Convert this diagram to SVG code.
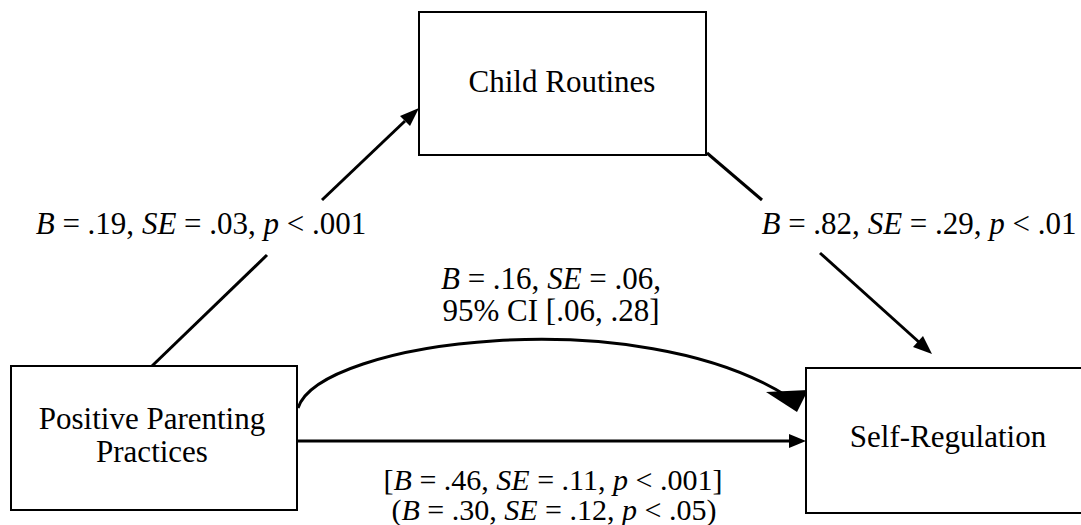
<svg xmlns="http://www.w3.org/2000/svg" width="1081" height="525" viewBox="0 0 1081 525">
<style>
.box{fill:#fff;stroke:#000;stroke-width:2}
.t{font-family:"Liberation Serif","Times New Roman",serif;font-size:31px;fill:#000;text-anchor:middle}
.s{font-size:30px}
.ln{stroke:#000;stroke-width:3;fill:none}
.ah{fill:#000}
</style>
<rect width="1081" height="525" fill="#fff"/>
<g id="connectors">
  <line class="ln" x1="152" y1="366" x2="267" y2="255"/>
  <line class="ln" x1="322" y1="200" x2="405" y2="121"/>
  <polygon class="ah" points="419,108 410,126 400,116"/>
  <line class="ln" x1="707" y1="153" x2="762" y2="200"/>
  <line class="ln" x1="820" y1="253" x2="920" y2="343"/>
  <polygon class="ah" points="932,354 913,347 923,336"/>
  <line class="ln" x1="297" y1="441" x2="792" y2="441"/>
  <polygon class="ah" points="806,441 789,434 789,448"/>
  <path class="ln" d="M298,408 C320,340 640,300 790,398" stroke-width="3.5"/>
  <polygon class="ah" points="766,392 808,390 797,412"/>
</g>
<g id="child-routines">
  <rect class="box" x="419" y="12" width="287" height="143"/>
  <text class="t" x="562" y="92">Child Routines</text>
</g>
<g id="positive-parenting">
  <rect class="box" x="11" y="366" width="286" height="144"/>
  <text class="t" x="152" y="429">Positive Parenting</text>
  <text class="t" x="152" y="462">Practices</text>
</g>
<g id="self-regulation">
  <rect class="box" x="806" y="368" width="290" height="145"/>
  <text class="t" x="948" y="447">Self-Regulation</text>
</g>
<g id="labels">
  <text class="t" x="201" y="234"><tspan font-style="italic">B</tspan> = .19, <tspan font-style="italic">SE</tspan> = .03, <tspan font-style="italic">p</tspan> &lt; .001</text>
  <text class="t" x="919" y="234"><tspan font-style="italic">B</tspan> = .82, <tspan font-style="italic">SE</tspan> = .29, <tspan font-style="italic">p</tspan> &lt; .01</text>
  <text class="t" x="551" y="289"><tspan font-style="italic">B</tspan> = .16, <tspan font-style="italic">SE</tspan> = .06,</text>
  <text class="t" x="551" y="321">95% CI [.06, .28]</text>
  <text class="t s" x="553" y="490">[<tspan font-style="italic">B</tspan> = .46, <tspan font-style="italic">SE</tspan> = .11, <tspan font-style="italic">p</tspan> &lt; .001]</text>
  <text class="t s" x="554" y="520">(<tspan font-style="italic">B</tspan> = .30, <tspan font-style="italic">SE</tspan> = .12, <tspan font-style="italic">p</tspan> &lt; .05)</text>
</g>
</svg>
